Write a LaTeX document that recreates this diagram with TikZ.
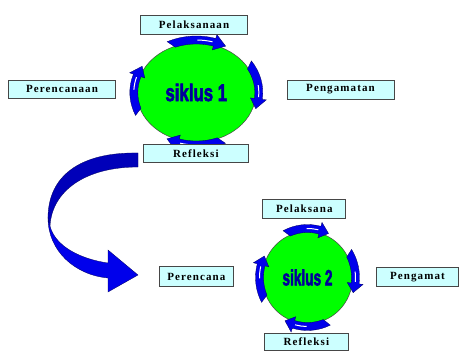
\documentclass[tikz,border=0pt]{standalone}
\usepackage{fontspec}
\usepackage{xcolor}
\usepackage{tikz}
\usetikzlibrary{calc}
\usetikzlibrary{positioning}
\usetikzlibrary{shapes.geometric}
\newfontfamily\boxfont[LetterSpace=10]{Liberation Serif}
\newfontfamily\cyclefont[FakeBold=3]{Liberation Sans}
\definecolor{boxcyan}{RGB}{204,255,255}
\definecolor{boxline}{RGB}{70,70,70}
\definecolor{cyclegreen}{RGB}{0,255,0}
\definecolor{arrowblue}{RGB}{0,0,235}
\definecolor{arrowdark}{RGB}{0,0,185}
\definecolor{navyline}{RGB}{0,0,90}

% curved blue arrow hugging an ellipse: centre, x radius, y radius, tail, tip
\newcommand\cyclearrow[5]{%
  \filldraw [fill=arrowblue, draw=navyline, line width=0.3pt]
  ($(#1)+({(#2+7)*cos(#4)},{(#3+7)*sin(#4)})$)
  arc [start angle=#4, end angle=#5+11, x radius=#2+7, y radius=#3+7]
  -- ($(#1)+({(#2+11)*cos(#5+11)},{(#3+11)*sin(#5+11)})$)
  -- ($(#1)+({(#2+3)*cos(#5)},{(#3+3)*sin(#5)})$)
  -- ($(#1)+({(#2-5)*cos(#5+11)},{(#3-5)*sin(#5+11)})$)
  -- ($(#1)+({(#2-1)*cos(#5+11)},{(#3-1)*sin(#5+11)})$)
  arc [start angle=#5+11, end angle=#4-5, x radius=#2-1, y radius=#3-1]
  -- cycle;
  \draw [white, line width=1pt]
  ($(#1)+({(#2+3)*cos((#4+#5)/2)},{(#3+3)*sin((#4+#5)/2)})$)
  arc [start angle={(#4+#5)/2}, end angle=#5+13, x radius=#2+3, y radius=#3+3];
}

\begin{document}
\begin{tikzpicture}[
    x=1pt, y=1pt,
    stage/.style={draw=boxline, line width=0.8pt, fill=boxcyan,
      inner sep=0pt, font=\boxfont\bfseries\fontsize{11}{12}\selectfont},
    cycle/.style={ellipse, draw=boxline, line width=0.5pt, fill=cyclegreen,
      inner sep=0pt, text=arrowblue!65!black}]

    \useasboundingbox (0, 0) rectangle (459, 351);

    % first cycle
    \node [cycle, minimum width=119pt, minimum height=99pt] (siklus1)
    at (196.3, 258.5)
    {\cyclefont\bfseries\fontsize{24}{25}\selectfont\scalebox{0.7}[1]{siklus 1}};

    \cyclearrow{siklus1}{59.5}{49.5}{116}{62}
    \cyclearrow{siklus1}{59.5}{49.5}{34}{-18}
    \cyclearrow{siklus1}{59.5}{49.5}{-64}{-118}
    \cyclearrow{siklus1}{59.5}{49.5}{204}{150}

    \node [stage, minimum width=107pt, minimum height=19pt] (pelaksanaan1)
    at (194, 326.5) {Pelaksanaan};
    \node [stage, minimum width=107pt, minimum height=18pt] (perencanaan1)
    at (62, 261.8) {Perencanaan};
    \node [stage, minimum width=107pt, minimum height=19pt] (pengamatan1)
    at (340.5, 261.5) {Pengamatan};
    \node [stage, minimum width=105pt, minimum height=18pt] (refleksi1)
    at (195.8, 197.7) {Refleksi};

    % big arrow from cycle 1 down to cycle 2
    \filldraw [fill=arrowdark, draw=navyline, line width=0.3pt]
    (138, 198) .. controls (80, 199) and (48, 175) .. (48, 133)
    -- (50, 125) .. controls (52, 160) and (85, 184) .. (138, 184) -- cycle;
    \filldraw [fill=arrowblue, draw=navyline, line width=0.3pt]
    (48, 133) .. controls (48, 100) and (75, 76) .. (108, 73)
    -- (108, 59) -- (138, 76) -- (108, 101) -- (108, 88)
    .. controls (80, 92) and (55, 105) .. (50, 125) -- cycle;

    % second cycle
    \node [cycle, minimum width=90pt, minimum height=92pt] (siklus2)
    at (307.5, 73.5)
    {\cyclefont\bfseries\fontsize{22}{23}\selectfont\scalebox{0.62}[1]{siklus 2}};

    \cyclearrow{siklus2}{45}{46}{118}{64}
    \cyclearrow{siklus2}{45}{46}{32}{-18}
    \cyclearrow{siklus2}{45}{46}{-64}{-118}
    \cyclearrow{siklus2}{45}{46}{208}{154}

    \node [stage, minimum width=83pt, minimum height=19pt] (pelaksana2)
    at (304.3, 142.2) {Pelaksana};
    \node [stage, minimum width=74pt, minimum height=20pt] (perencana2)
    at (196.3, 74.3) {Perencana};
    \node [stage, minimum width=82pt, minimum height=19pt] (pengamat2)
    at (417.5, 74) {Pengamat};
    \node [stage, minimum width=84pt, minimum height=17pt] (refleksi2)
    at (306.3, 9) {Refleksi};

  \end{tikzpicture}
\end{document}
